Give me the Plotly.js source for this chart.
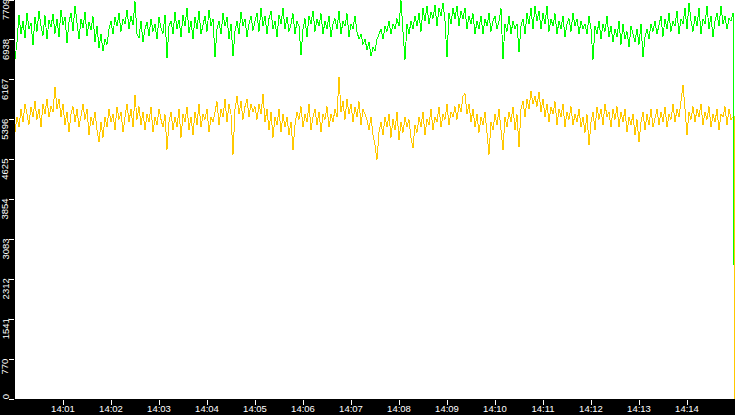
<!DOCTYPE html>
<html>
<head>
<meta charset="utf-8">
<script src="https://cdn.plot.ly/plotly-3.0.1.min.js"></script>
<style>
    html, body { margin: 0; padding: 0; background: #000; }
    #chart { width: 735px; height: 415px; }
    /* the original chart draws hard 1px lines without smoothing */
    .scatterlayer path.js-line { shape-rendering: crispEdges; }
</style>
</head>
<body>
<div id="chart"></div>
<script>
// seconds between two samples, the window covers 14:00:00 - 14:15:00
const sampleStep = 2.5;

// upper series (green), one value per sample
const greenValues = [
    6560, 6900, 7420, 7050, 7300, 6980, 7460, 7150, 7260, 6840, 7380, 7100, 7500, 7200, 7020, 7410, 6950, 7320, 7180, 7440,
    7060, 7350, 6990, 7520, 7230, 7380, 6880, 7290, 7450, 7110, 7600, 7250, 6950, 7340, 7170, 7480, 7010, 7290, 7130, 7390,
    6900, 7200, 6780, 7050, 6720, 6950, 6850, 7150, 7300, 7050, 7380, 7200, 7450, 7100, 7350, 7250, 7520, 7150, 7400, 7230,
    7680, 7050, 6980, 7300, 6900, 7150, 7280, 7020, 7350, 7100, 7250, 6950, 7380, 7160, 7060, 7420, 6580, 7200, 7310, 7050,
    7480, 7150, 7330, 7000, 7420, 7200, 7560, 7080, 7300, 6950, 7380, 7150, 7500, 7050, 7260, 7400, 7100, 7520, 7200, 7350,
    6600, 7150, 7300, 7050, 7450, 7200, 7380, 6950, 7250, 6620, 7100, 7300, 7050, 7480, 7200, 7350, 7000, 7250, 7400, 7120,
    7300, 7450, 7100, 7550, 7200, 7400, 7050, 7350, 7500, 7150, 7300, 7000, 7420, 7250, 7550, 7150, 7380, 7100, 7250, 7450,
    7050, 7300, 7200, 6640, 7150, 7350, 7000, 7400, 7250, 7500, 7100, 7350, 7200, 7450, 7050, 7300, 7150, 7400, 7000, 7250,
    7350, 7150, 7500, 7050, 7300, 7200, 7450, 7000, 7250, 7150, 7400, 7100, 6950, 7050, 6850, 6950, 6750, 6900, 6620, 6800,
    6720, 6950, 7050, 7150, 6950, 7200, 7100, 7300, 7050, 7250, 7150, 7350, 7200, 7700, 7100, 6560, 7250, 7050, 7300, 7150,
    7400, 7200, 7450, 7100, 7550, 7300, 7600, 7250, 7480, 7350, 7620, 7200, 7550, 7400, 7650, 7300, 6600, 7450, 7250, 7550,
    7350, 7600, 7200, 7500, 7350, 7550, 7150, 7400, 7250, 7450, 7050, 7300, 7150, 7400, 7050, 7350, 7200, 7450, 7100, 7300,
    7400, 7150, 7300, 7550, 6560, 7250, 7100, 7400, 7050, 7300, 7150, 7250, 6700, 7200, 7350, 7050, 7450, 7250, 7550, 7150,
    7600, 7300, 7500, 7150, 7450, 7250, 7600, 7100, 7350, 7200, 7450, 7050, 7300, 7150, 7400, 7000, 7250, 7350, 7100, 7450,
    7200, 7350, 7050, 7300, 7150, 7250, 7050, 7400, 7150, 6560, 7200, 7050, 7300, 6950, 7250, 7100, 7400, 7000, 7200, 6900,
    7150, 7000, 7300, 6850, 7250, 6950, 7100, 6800, 7200, 7050, 6900, 7150, 6850, 7250, 6600, 7000, 7150, 6950, 7250, 7100,
    7300, 7050, 7200, 7400, 7000, 7350, 7150, 7450, 7100, 7300, 7200, 7500, 7050, 7350, 7250, 7550, 7150, 7650, 7300, 7100,
    7400, 7200, 7550, 7050, 7350, 7250, 7600, 7150, 7400, 7000, 7300, 7450, 7200, 7600, 7250, 7400, 7150, 7350, 7300, 7450
];

// lower series (yellow), one value per sample
const yellowValues = [
    5160, 5450, 5250, 5600, 5350, 5700, 5500, 5300, 5650, 5450, 5750, 5400, 5600, 5250, 5700, 5500, 5800, 5450, 5650, 5550,
    6030, 5600, 5800, 5450, 5700, 5300, 5550, 5150, 5500, 5650, 5350, 5600, 5250, 5500, 5700, 5400, 5600, 5100, 5450, 5300,
    5550, 5200, 4960, 5350, 5050, 5450, 5250, 5600, 5350, 5500, 5200, 5650, 5400, 5550, 5150, 5450, 5700, 5350, 5600, 5250,
    5870, 5400, 5650, 5300, 5550, 5200, 5500, 5350, 5650, 5150, 5450, 5300, 5600, 5400, 5250, 5500, 4820, 5350, 5550, 5200,
    5450, 5250, 5600, 5050, 5500, 5350, 5650, 5200, 5450, 5100, 5550, 5300, 5700, 5250, 5500, 5400, 5600, 5150, 5450, 5350,
    5550, 5750, 5300, 5600, 5450, 5800, 5350, 5700, 5500, 4720, 5600, 5850, 5500, 5750, 5400, 5650, 5800, 5450, 5700, 5550,
    5650, 5400, 5700, 5500, 5900, 5350, 5600, 5200, 5550, 5050, 5450, 5300, 5600, 5150, 5500, 5250, 5450, 5100, 5350, 4810,
    5300, 5550, 5400, 5650, 5250, 5500, 5350, 5700, 5200, 5450, 5600, 5300, 5550, 5150, 5500, 5400, 5650, 5250, 5500, 5350,
    5600, 5450, 6230, 5550, 5750, 5400, 5800, 5500, 5700, 5350, 5650, 5450, 5750, 5300, 5600, 5500, 5400, 5200, 5450, 5100,
    4900, 4620, 5150, 5350, 5100, 5450, 5250, 5500, 5050, 5400, 5200, 5550, 5000, 5350, 5150, 5450, 5250, 5400, 5050, 4850,
    5300, 5150, 5450, 5250, 5550, 5100, 5400, 5300, 5600, 5200, 5450, 5350, 5650, 5250, 5500, 5400, 5700, 5300, 5550, 5450,
    5650, 5400, 5700, 5550, 5850, 5900, 5500, 5700, 5350, 5600, 5250, 5500, 5150, 5450, 5300, 5550, 5100, 4720, 5350, 5200,
    5500, 5300, 5600, 5150, 4810, 5450, 5250, 5550, 5350, 5650, 5200, 5500, 4860, 5600, 5750, 5450, 5800, 5600, 5950, 5700,
    5850, 5650, 5930, 5550, 5800, 5450, 5700, 5350, 5650, 5500, 5750, 5300, 5600, 5450, 5700, 5250, 5550, 5400, 5650, 5300,
    5500, 5350, 5600, 5250, 5450, 5150, 5500, 4900, 5350, 5550, 5200, 5650, 5400, 5600, 5300, 5700, 5450, 5550, 5250, 5600,
    5400, 5650, 5250, 5550, 5350, 5600, 5150, 5450, 5300, 5500, 5100, 5400, 4970, 5350, 5550, 5200, 5500, 5300, 5600, 5250,
    5450, 5600, 5300, 5550, 5350, 5650, 5250, 5500, 5400, 5700, 5350, 5600, 5450, 5750, 6070, 5600, 5100, 5550, 5400, 5650,
    5350, 5600, 5450, 5700, 5300, 5550, 5400, 5650, 5250, 5500, 5350, 5600, 5200, 5500, 5450, 5650, 5300, 5600, 5400, 5450
];

// both series fall off at the very end of the window
const greenEnd = { second: 898.0, value: 2590 };
const yellowEnd = { second: 898.9, value: 0 };

// axis ticks
const yTickValues = [0, 770.9, 1541.8, 2312.7, 3083.6, 3854.5, 4625.4, 5396.3, 6167.2, 6938.1, 7709];
const yTickLabels = ['0', '770', '1541', '2312', '3083', '3854', '4625', '5396', '6167', '6938', '7709'];
const xTickValues = [60, 120, 180, 240, 300, 360, 420, 480, 540, 600, 660, 720, 780, 840];
const xTickLabels = ['14:01', '14:02', '14:03', '14:04', '14:05', '14:06', '14:07',
    '14:08', '14:09', '14:10', '14:11', '14:12', '14:13', '14:14'];

const plotHeight = 399;
const yMax = 7709;

document.addEventListener('DOMContentLoaded', function () {
    buildChart();
});

function makeTrace(values, color) {
    // sample times in seconds after 14:00:00
    return {
        x: values.map((v, i) => i * sampleStep),
        y: values,
        type: 'scatter',
        mode: 'lines',
        line: { color: color, width: 1 },
        hoverinfo: 'skip'
    };
}

function makeDropTrace(values, end, color) {
    // last sample and the final drop, drawn as a step so the fall is a clean vertical
    const last = values.length - 1;
    return {
        x: [last * sampleStep, end.second],
        y: [values[last], end.value],
        type: 'scatter',
        mode: 'lines',
        line: { color: color, width: 1, shape: 'hv' },
        hoverinfo: 'skip'
    };
}

function buildYLabels(font) {
    // rotated y labels hang just below their tick mark,
    // the lowest one is kept inside the plot like in the original
    return yTickValues.map((val, i) => {
        const label = yTickLabels[i];
        const textLen = label.length * 5.3;
        const tickPx = plotHeight - val / yMax * plotHeight;
        let centerPx = tickPx + textLen / 2 - 0.5;
        centerPx = Math.min(centerPx, plotHeight + 1 - textLen / 2);
        return {
            text: label,
            xref: 'paper',
            yref: 'y',
            x: 0,
            y: val,
            xanchor: 'center',
            yanchor: 'middle',
            xshift: -10,
            yshift: tickPx - centerPx,
            textangle: -90,
            showarrow: false,
            borderpad: 0,
            font: font
        };
    });
}

function buildChart() {
    const tickFont = { family: 'Liberation Sans, Arial, sans-serif', size: 9.5, color: '#ffffff' };

    const layout = {
        width: 735,
        height: 415,
        margin: { l: 15, r: 0, t: 0, b: 16, pad: 0 },
        paper_bgcolor: '#000000',
        plot_bgcolor: '#ffffff',
        showlegend: false,
        xaxis: {
            range: [0, 900],
            tickmode: 'array',
            tickvals: xTickValues,
            ticktext: xTickLabels,
            ticks: 'outside',
            ticklen: 5,
            tickcolor: '#ffffff',
            tickwidth: 1,
            ticklabelstandoff: -4,
            tickfont: tickFont,
            showgrid: false,
            zeroline: false,
            showline: false,
            fixedrange: true
        },
        yaxis: {
            range: [0, yMax],
            tickmode: 'array',
            tickvals: yTickValues,
            ticks: 'outside',
            ticklen: 5,
            tickcolor: '#ffffff',
            tickwidth: 1,
            showticklabels: false,
            showgrid: false,
            zeroline: false,
            showline: false,
            fixedrange: true
        },
        annotations: buildYLabels(tickFont)
    };
    const config = {
        displayModeBar: false,
        staticPlot: true
    };

    // yellow first so the green drop is drawn over it
    const chartData = [
        makeTrace(yellowValues, '#ffc800'),
        makeDropTrace(yellowValues, yellowEnd, '#ffc800'),
        makeTrace(greenValues, '#00ff00'),
        makeDropTrace(greenValues, greenEnd, '#00ff00')
    ];
    Plotly.newPlot('chart', chartData, layout, config);
}
</script>
</body>
</html>
